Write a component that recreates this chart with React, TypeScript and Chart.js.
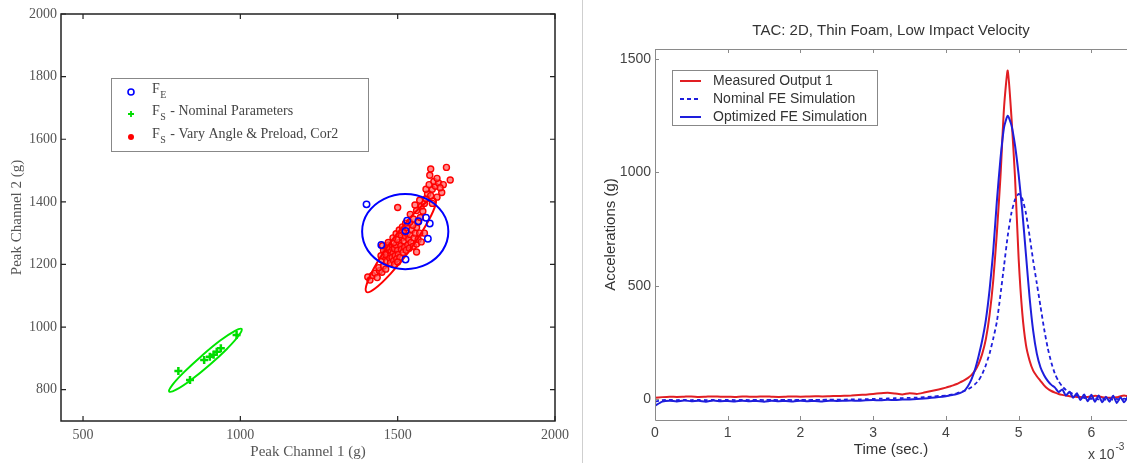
import { useEffect, useRef } from 'react';
import { Chart, registerables } from 'chart.js';

Chart.register(...registerables);

// ---------- Left panel data ----------
const leftXTicks = [500, 1000, 1500, 2000];
const leftYTicks = [800, 1000, 1200, 1400, 1600, 1800, 2000];

const fePoints: number[][] = [
  [1401, 1392], [1525, 1307], [1566, 1338], [1590, 1349], [1602, 1331],
  [1596, 1282], [1525, 1216], [1448, 1262], [1530, 1340],
];

const nominalPoints: number[][] = [
  [803, 860], [840, 831], [885, 895], [903, 905], [915, 912], [925, 921],
  [938, 932], [988, 975],
];

const varyPoints: number[][] = [
  [1405, 1160], [1412, 1150], [1420, 1165], [1428, 1172], [1435, 1158], [1442, 1180],
  [1450, 1175], [1440, 1190], [1455, 1195], [1462, 1185],
  [1450, 1215], [1458, 1225], [1465, 1210], [1470, 1230], [1475, 1220], [1462, 1240],
  [1478, 1245], [1485, 1235], [1480, 1255], [1490, 1250], [1495, 1262], [1488, 1270],
  [1500, 1245], [1505, 1270], [1498, 1280], [1510, 1260], [1515, 1285], [1508, 1295],
  [1520, 1275], [1525, 1290], [1530, 1300], [1518, 1305], [1535, 1280], [1540, 1295],
  [1545, 1310], [1528, 1318], [1472, 1262], [1466, 1255], [1482, 1222], [1492, 1228],
  [1502, 1232], [1512, 1248], [1522, 1255], [1532, 1262], [1542, 1270], [1552, 1285],
  [1556, 1300], [1560, 1318], [1548, 1325], [1538, 1335], [1455, 1245], [1460, 1232],
  [1470, 1270], [1485, 1285], [1495, 1298], [1505, 1310], [1515, 1320], [1525, 1332],
  [1477, 1205], [1487, 1212], [1497, 1218], [1507, 1222], [1517, 1238], [1527, 1245],
  [1537, 1252], [1550, 1258], [1560, 1265], [1565, 1280], [1490, 1200], [1500, 1208],
  [1447, 1228], [1452, 1260], [1560, 1240], [1575, 1272], [1585, 1300], [1570, 1300],
  [1500, 1382], [1540, 1360], [1550, 1345], [1565, 1335], [1572, 1350], [1560, 1372],
  [1575, 1385], [1555, 1390], [1580, 1370], [1585, 1395], [1570, 1405], [1590, 1410],
  [1595, 1425], [1605, 1420], [1590, 1440], [1610, 1440], [1600, 1455], [1620, 1450],
  [1615, 1465], [1630, 1460], [1640, 1430], [1645, 1455], [1602, 1485], [1605, 1505],
  [1625, 1475], [1655, 1510], [1667, 1470], [1610, 1395], [1625, 1415], [1635, 1445],
];

const feEllipse: number[][] = [
  [1661, 1305], [1643, 1365], [1593, 1409], [1524, 1425], [1456, 1409], [1405, 1365],
  [1387, 1305], [1405, 1245], [1456, 1201], [1524, 1185], [1593, 1201], [1643, 1245],
  [1661, 1305],
];

const varyEllipse: number[][] = [
  [1619, 1410], [1617, 1381], [1586, 1319], [1536, 1242], [1477, 1170], [1428, 1123],
  [1401, 1112], [1403, 1141], [1433, 1203], [1484, 1280], [1542, 1352], [1592, 1400],
  [1619, 1410],
];

const nominalEllipse: number[][] = [
  [1004, 994], [995, 973], [958, 931], [902, 879], [843, 831], [796, 800],
  [774, 794], [783, 814], [821, 856], [877, 908], [936, 957], [983, 988],
  [1004, 994],
];

// ---------- Right panel data ----------
const rightXTicks = [0, 1, 2, 3, 4, 5, 6];
const rightYTicks = [0, 500, 1000, 1500];

const timeMs = [
  0, 0.1, 0.2, 0.3, 0.4, 0.5, 0.6, 0.7, 0.8, 0.9,
  1.0, 1.1, 1.2, 1.3, 1.4, 1.5, 1.6, 1.7, 1.8, 1.9,
  2.0, 2.1, 2.2, 2.3, 2.4, 2.5, 2.6, 2.7, 2.8, 2.9,
  3.0, 3.1, 3.2, 3.3, 3.4, 3.5, 3.6, 3.7, 3.8, 3.9,
  4.0, 4.05, 4.1, 4.15, 4.2, 4.25, 4.3, 4.35, 4.4, 4.45,
  4.5, 4.55, 4.6, 4.65, 4.7, 4.75, 4.8, 4.85, 4.9, 4.95,
  5.0, 5.05, 5.1, 5.15, 5.2, 5.25, 5.3, 5.35, 5.4, 5.45,
  5.5, 5.55, 5.6, 5.65, 5.7, 5.75, 5.8, 5.85, 5.9, 5.95,
  6.0, 6.05, 6.1, 6.15, 6.2, 6.25, 6.3, 6.35, 6.4, 6.45, 6.5,
];

const measuredOutput = [
  5, 8, 10, 9, 10, 11, 9, 10, 11, 10,
  10, 9, 11, 10, 10, 11, 10, 9, 10, 11,
  10, 11, 12, 11, 12, 13, 14, 15, 17, 19,
  22, 25, 27, 24, 20, 25, 22, 28, 35, 42,
  50, 55, 60, 66, 74, 82, 92, 105, 125, 155,
  200, 265, 370, 520, 730, 980, 1290, 1450, 1250, 980,
  620, 380, 240, 170, 125, 100, 80, 60, 45, 35,
  28, 22, 18, 15, 12, 10, 9, 8, 8, 9,
  10, 14, 12, 8, 6, 5, 6, 7, 12, 15, 12,
];

const nominalSim = [
  -12, -5, -4, -5, -4, -5, -4, -5, -4, -5,
  -4, -5, -4, -5, -4, -5, -4, -5, -4, -5,
  -4, -5, -4, -4, -3, -3, -3, -2, -2, -1,
  0, 1, 2, 3, 4, 5, 6, 8, 10, 13,
  15, 18, 21, 25, 30, 35, 42, 52, 65, 82,
  110, 150, 200, 265, 340, 460, 590, 720, 820, 880,
  905, 885, 820, 720, 610, 510, 410, 310, 225, 160,
  110, 78, 55, 40, 30, 22, 16, 10, 5, 2,
  0, 3, -2, 2, -3, 1, -4, 0, -3, 1, -2,
];

const optimizedSim = [
  -30, -12, -8, -11, -7, -10, -8, -12, -7, -10,
  -9, -11, -8, -10, -9, -12, -8, -10, -9, -11,
  -8, -10, -9, -11, -8, -9, -8, -7, -8, -6,
  -5, -6, -4, -5, -3, -2, 0, 2, 5, 8,
  12, 15, 18, 22, 27, 35, 55, 85, 130, 190,
  260, 350, 480, 650, 870, 1060, 1200, 1250, 1210, 1120,
  990, 830, 640, 450, 300, 200, 140, 105, 80, 62,
  50, 30, 42, 15, 32, 5, 25, -5, 20, -10,
  18, -12, 15, -15, 10, -12, 14, -18, 8, -15, 10,
];

const SERIF = '"Liberation Serif", "Times New Roman", serif';
const SANS = '"Liberation Sans", Arial, Helvetica, sans-serif';

const toXY = (pts: number[][]) => pts.map(([x, y]) => ({ x, y }));
// closed outline: wrap one point on each side so the smoothing is continuous,
// and hide the two wrap segments
const closedLoop = (pts: number[][]) => {
  const wrapped = [pts[pts.length - 2], ...pts, pts[1]];
  return wrapped.map(([x, y]) => ({ x, y }));
};
const loopSegment = (color: string, n: number) => ({
  borderColor: (ctx: any) => (ctx.p0DataIndex === 0 || ctx.p1DataIndex === n - 1 ? 'rgba(0,0,0,0)' : color),
});
const series = (vals: number[]) => timeMs.map((t, i) => ({ x: t, y: vals[i] }));
const fixedTicks = (vals: number[]) => (scale: any) => {
  scale.ticks = vals.map((v) => ({ value: v }));
};
const plainLabel = (v: any) => String(v);

const leftDecor = {
  id: 'leftDecor',
  afterDraw(chart: any) {
    const { ctx, chartArea: a, scales } = chart;
    const xs = scales.x;
    const ys = scales.y;
    ctx.save();
    ctx.strokeStyle = '#222';
    ctx.lineWidth = 1.5;
    ctx.strokeRect(a.left, a.top, a.right - a.left, a.bottom - a.top);
    ctx.lineWidth = 1.2;
    ctx.beginPath();
    leftXTicks.forEach((v) => {
      const p = xs.getPixelForValue(v);
      ctx.moveTo(p, a.bottom); ctx.lineTo(p, a.bottom - 5);
      ctx.moveTo(p, a.top); ctx.lineTo(p, a.top + 5);
    });
    leftYTicks.forEach((v) => {
      const p = ys.getPixelForValue(v);
      ctx.moveTo(a.left, p); ctx.lineTo(a.left + 5, p);
      ctx.moveTo(a.right, p); ctx.lineTo(a.right - 5, p);
    });
    ctx.stroke();

    // legend
    ctx.fillStyle = '#fff';
    ctx.fillRect(111.5, 78.5, 257, 73);
    ctx.strokeStyle = '#888';
    ctx.lineWidth = 1;
    ctx.strokeRect(111.5, 78.5, 257, 73);
    const rows = [
      { y: 92, sub: 'E', rest: '', kind: 'circle' },
      { y: 114, sub: 'S', rest: ' - Nominal Parameters', kind: 'plus' },
      { y: 137, sub: 'S', rest: ' - Vary Angle & Preload, Cor2', kind: 'dot' },
    ];
    rows.forEach((r) => {
      const mx = 131;
      if (r.kind === 'circle') {
        ctx.strokeStyle = 'rgb(0,0,255)';
        ctx.lineWidth = 1.6;
        ctx.beginPath(); ctx.arc(mx, r.y, 3, 0, Math.PI * 2); ctx.stroke();
      } else if (r.kind === 'plus') {
        ctx.strokeStyle = 'rgb(0,220,0)';
        ctx.lineWidth = 1.8;
        ctx.beginPath();
        ctx.moveTo(mx - 3, r.y); ctx.lineTo(mx + 3, r.y);
        ctx.moveTo(mx, r.y - 3); ctx.lineTo(mx, r.y + 3);
        ctx.stroke();
      } else {
        ctx.fillStyle = 'rgb(255,0,0)';
        ctx.beginPath(); ctx.arc(mx, r.y, 3, 0, Math.PI * 2); ctx.fill();
      }
      ctx.fillStyle = '#444';
      ctx.textBaseline = 'middle';
      ctx.textAlign = 'left';
      ctx.font = `14px ${SERIF}`;
      const fx = 152;
      ctx.fillText('F', fx, r.y - 3);
      const fw = ctx.measureText('F').width;
      ctx.font = `10px ${SERIF}`;
      ctx.fillText(r.sub, fx + fw + 0.5, r.y + 3);
      const sw = ctx.measureText(r.sub).width;
      ctx.font = `14px ${SERIF}`;
      if (r.rest) ctx.fillText(r.rest, fx + fw + sw + 1.5, r.y - 3);
    });
    ctx.restore();
  },
};

const rightDecor = {
  id: 'rightDecor',
  afterDraw(chart: any) {
    const { ctx, chartArea: a, scales } = chart;
    const xs = scales.x;
    const ys = scales.y;
    ctx.save();
    ctx.strokeStyle = '#8a8a8a';
    ctx.lineWidth = 1;
    ctx.beginPath();
    ctx.moveTo(a.right + 1, a.top + 0.5); ctx.lineTo(a.left + 0.5, a.top + 0.5);
    ctx.lineTo(a.left + 0.5, a.bottom + 0.5); ctx.lineTo(a.right + 1, a.bottom + 0.5);
    rightXTicks.forEach((v) => {
      const p = Math.round(xs.getPixelForValue(v)) + 0.5;
      ctx.moveTo(p, a.bottom); ctx.lineTo(p, a.bottom - 4);
      ctx.moveTo(p, a.top); ctx.lineTo(p, a.top + 4);
    });
    rightYTicks.forEach((v) => {
      const p = Math.round(ys.getPixelForValue(v)) + 0.5;
      ctx.moveTo(a.left, p); ctx.lineTo(a.left + 4, p);
    });
    ctx.stroke();

    // title
    ctx.fillStyle = '#333';
    ctx.textAlign = 'center';
    ctx.textBaseline = 'middle';
    ctx.font = `15px ${SANS}`;
    ctx.fillText('TAC: 2D, Thin Foam, Low Impact Velocity', (a.left + a.right) / 2, 31);

    // legend
    const bx = 89.5, by = 70.5, bw = 205, bh = 55;
    ctx.fillStyle = '#fff';
    ctx.fillRect(bx, by, bw, bh);
    ctx.strokeStyle = '#888';
    ctx.strokeRect(bx, by, bw, bh);
    const rows = [
      { y: 81, label: 'Measured Output 1', color: 'rgb(225,30,35)', dash: [] as number[] },
      { y: 99, label: 'Nominal FE Simulation', color: 'rgb(30,30,220)', dash: [4, 3] },
      { y: 117, label: 'Optimized FE Simulation', color: 'rgb(30,30,220)', dash: [] as number[] },
    ];
    rows.forEach((r) => {
      ctx.strokeStyle = r.color;
      ctx.lineWidth = 2;
      ctx.setLineDash(r.dash);
      ctx.beginPath(); ctx.moveTo(97, r.y); ctx.lineTo(118, r.y); ctx.stroke();
      ctx.setLineDash([]);
      ctx.fillStyle = '#333';
      ctx.textAlign = 'left';
      ctx.font = `14px ${SANS}`;
      ctx.fillText(r.label, 130, r.y);
    });

    // exponent label
    ctx.font = `14px ${SANS}`;
    ctx.fillStyle = '#444';
    ctx.fillText('x 10', 505, 455);
    const w = ctx.measureText('x 10').width;
    ctx.font = `10px ${SANS}`;
    ctx.fillText('-3', 505 + w + 1, 447);
    ctx.restore();
  },
};

export default function App() {
  const leftRef = useRef<HTMLCanvasElement>(null);
  const rightRef = useRef<HTMLCanvasElement>(null);

  useEffect(() => {
    const tickFontL = { family: SERIF, size: 14 };
    const ellipseDataset = (label: string, pts: number[][], color: string, order: number) => ({
      label,
      data: closedLoop(pts),
      showLine: true,
      borderColor: color,
      borderWidth: 2,
      pointRadius: 0,
      tension: 0.4,
      order,
      segment: loopSegment(color, pts.length + 2),
    });
    const left = new Chart(leftRef.current as HTMLCanvasElement, {
      type: 'scatter',
      data: {
        datasets: [
          {
            label: 'F_E',
            data: toXY(fePoints),
            borderColor: 'rgb(0,0,255)',
            backgroundColor: 'rgba(0,0,0,0)',
            pointRadius: 3.2,
            pointBorderWidth: 1.5,
            order: 1,
          },
          ellipseDataset('F_E ellipse', feEllipse, 'rgb(0,0,255)', 2),
          ellipseDataset('F_S ellipse (vary)', varyEllipse, 'rgb(255,0,0)', 3),
          {
            label: 'F_S - Vary Angle & Preload, Cor2',
            data: toXY(varyPoints),
            borderColor: 'rgb(255,0,0)',
            backgroundColor: 'rgba(255,90,90,0.7)',
            pointRadius: 3,
            pointBorderWidth: 1.4,
            order: 4,
          },
          ellipseDataset('F_S ellipse (nominal)', nominalEllipse, 'rgb(0,230,0)', 5),
          {
            label: 'F_S - Nominal Parameters',
            data: toXY(nominalPoints),
            borderColor: 'rgb(0,220,0)',
            backgroundColor: 'rgb(0,220,0)',
            pointStyle: 'cross',
            pointRadius: 4,
            pointBorderWidth: 2.5,
            order: 6,
          },
        ],
      },
      options: {
        animation: false,
        responsive: false,
        maintainAspectRatio: false,
        layout: { padding: { top: 14, right: 25, left: 0, bottom: 0 } },
        plugins: { legend: { display: false }, tooltip: { enabled: false }, title: { display: false } },
        scales: {
          x: {
            type: 'linear',
            min: 430,
            max: 2000,
            afterBuildTicks: fixedTicks(leftXTicks),
            afterFit: (s: any) => { s.height = 42; },
            grid: { display: false, drawTicks: false },
            border: { display: false },
            ticks: { font: tickFontL, color: '#555', padding: 6, maxRotation: 0, autoSkip: false, callback: plainLabel },
            title: {
              display: true,
              text: 'Peak Channel 1 (g)',
              font: { family: SERIF, size: 15 },
              color: '#555',
              padding: { top: 0, bottom: 2 },
            },
          },
          y: {
            type: 'linear',
            min: 700,
            max: 2000,
            afterBuildTicks: fixedTicks(leftYTicks),
            afterFit: (s: any) => { s.width = 61; },
            grid: { display: false, drawTicks: false },
            border: { display: false },
            ticks: { font: tickFontL, color: '#555', padding: 4, autoSkip: false, callback: plainLabel },
            title: {
              display: true,
              text: 'Peak Channel 2 (g)',
              font: { family: SERIF, size: 15 },
              color: '#555',
              padding: { top: 8, bottom: 0 },
            },
          },
        },
      } as any,
      plugins: [leftDecor],
    });

    const tickFontR = { family: SANS, size: 14 };
    const right = new Chart(rightRef.current as HTMLCanvasElement, {
      type: 'scatter',
      data: {
        datasets: [
          {
            label: 'Optimized FE Simulation',
            data: series(optimizedSim),
            showLine: true,
            borderColor: 'rgb(30,30,220)',
            borderWidth: 2,
            pointRadius: 0,
            tension: 0.2,
            order: 1,
          },
          {
            label: 'Nominal FE Simulation',
            data: series(nominalSim),
            showLine: true,
            borderColor: 'rgb(30,30,220)',
            borderWidth: 1.8,
            borderDash: [4, 3],
            pointRadius: 0,
            tension: 0.2,
            order: 2,
          },
          {
            label: 'Measured Output 1',
            data: series(measuredOutput),
            showLine: true,
            borderColor: 'rgb(225,30,35)',
            borderWidth: 2,
            pointRadius: 0,
            tension: 0.2,
            order: 3,
          },
        ],
      },
      options: {
        animation: false,
        responsive: false,
        maintainAspectRatio: false,
        layout: { padding: { top: 49, right: 0, left: 0, bottom: 0 } },
        plugins: { legend: { display: false }, tooltip: { enabled: false }, title: { display: false } },
        scales: {
          x: {
            type: 'linear',
            min: 0,
            max: 6.49,
            afterBuildTicks: fixedTicks(rightXTicks),
            afterFit: (s: any) => { s.height = 43; },
            grid: { display: false, drawTicks: false },
            border: { display: false },
            ticks: { font: tickFontR, color: '#444', padding: 5, maxRotation: 0, autoSkip: false, callback: plainLabel },
            title: {
              display: true,
              text: 'Time (sec.)',
              font: { family: SANS, size: 15 },
              color: '#333',
              padding: { top: 0, bottom: 4 },
            },
          },
          y: {
            type: 'linear',
            min: -93,
            max: 1545,
            afterBuildTicks: fixedTicks(rightYTicks),
            afterFit: (s: any) => { s.width = 72; },
            grid: { display: false, drawTicks: false },
            border: { display: false },
            ticks: { font: tickFontR, color: '#444', padding: 4, autoSkip: false, callback: plainLabel },
            title: {
              display: true,
              text: 'Accelerations (g)',
              font: { family: SANS, size: 15 },
              color: '#333',
              padding: { top: 19, bottom: 0 },
            },
          },
        },
      } as any,
      plugins: [rightDecor],
    });

    return () => {
      left.destroy();
      right.destroy();
    };
  }, []);

  return (
    <div style={{ position: 'fixed', left: 0, top: 0, width: 1127, height: 463, background: '#fff', overflow: 'hidden' }}>
      <canvas ref={leftRef} width={580} height={463} style={{ position: 'absolute', left: 0, top: 0 }} />
      <div style={{ position: 'absolute', left: 582, top: 0, width: 1, height: 463, background: '#cfcfcf' }} />
      <canvas ref={rightRef} width={544} height={463} style={{ position: 'absolute', left: 583, top: 0 }} />
    </div>
  );
}
